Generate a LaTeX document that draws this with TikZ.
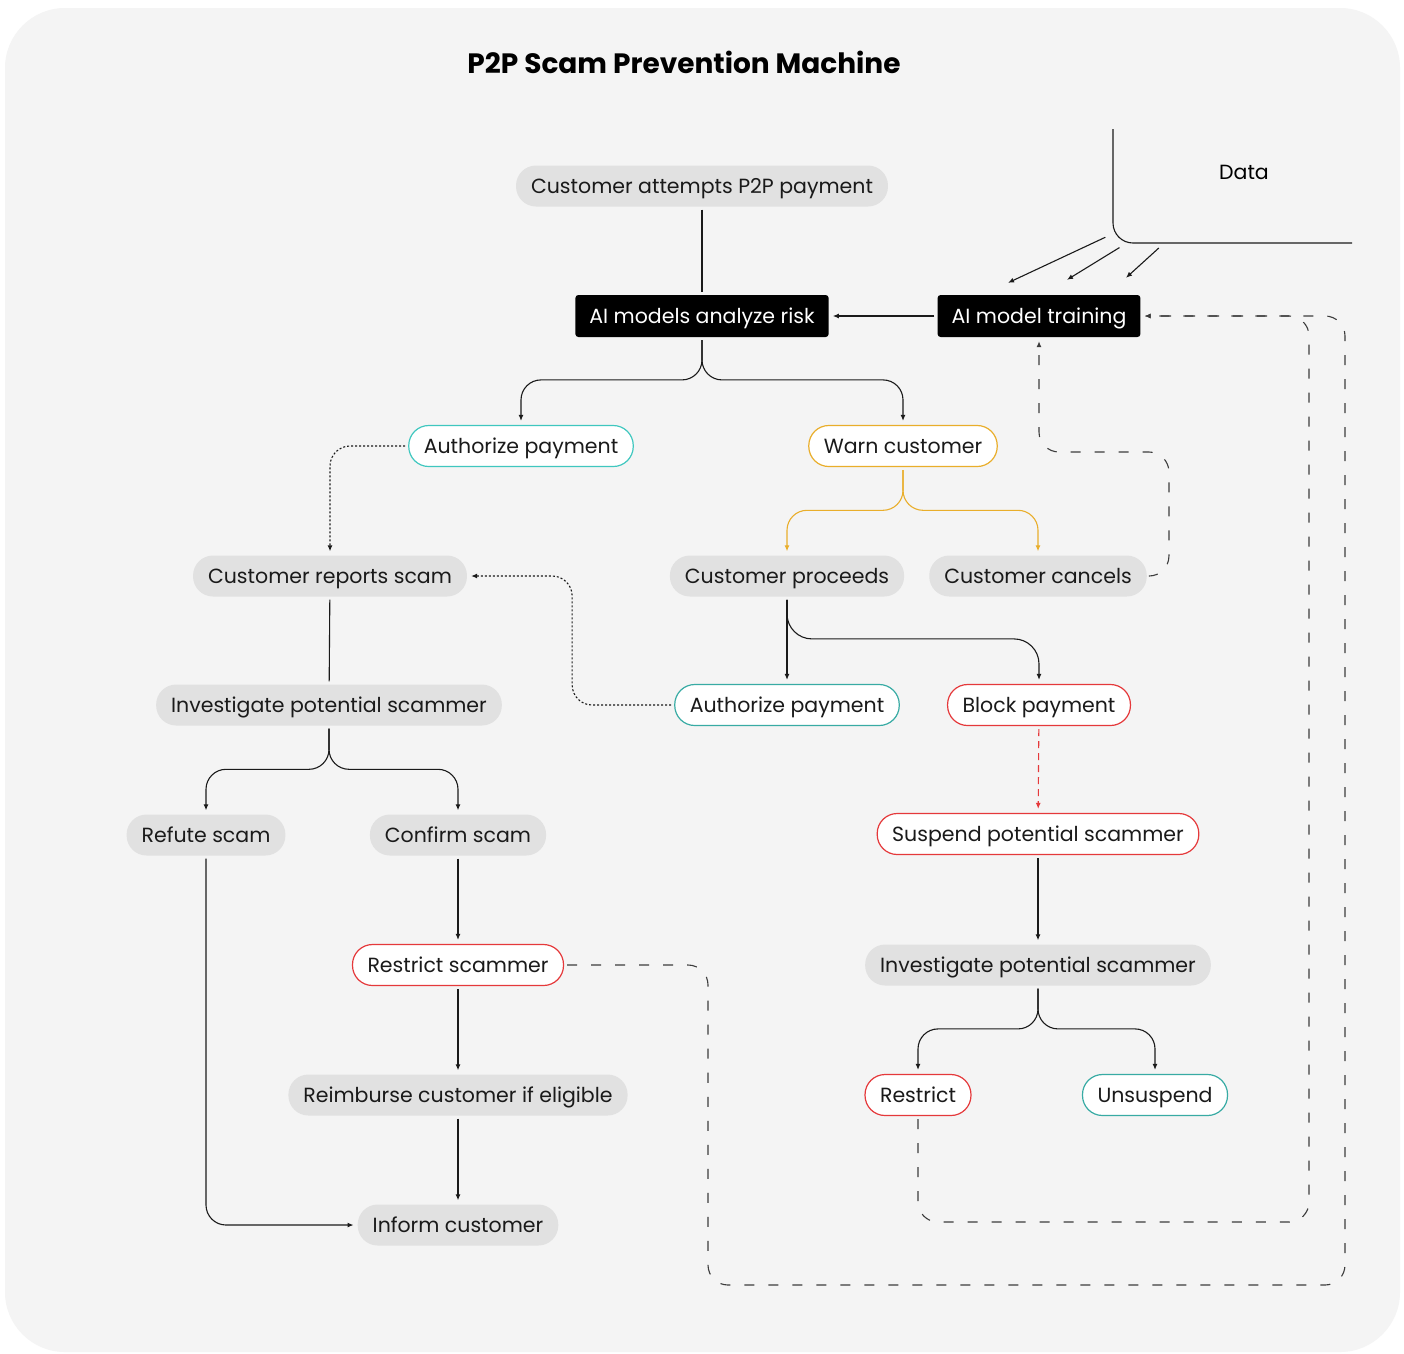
\documentclass[tikz,border=0pt]{standalone}
\usepackage{fontspec}
\setmainfont{Poppins}
\usetikzlibrary{arrows.meta, positioning}

\definecolor{canvas}{HTML}{F4F4F4}
\definecolor{pillgrey}{HTML}{E1E1E1}
\definecolor{tealA}{HTML}{3FC7BF}
\definecolor{tealB}{HTML}{38ABA4}
\definecolor{amber}{HTML}{E9AE2B}
\definecolor{alert}{HTML}{E5393B}
\definecolor{ink}{HTML}{1A1A1A}

\begin{document}
\begin{tikzpicture}[
    x=1pt, y=-1pt,
    pill/.style={
        rounded corners=20pt,
        fill=pillgrey,
        minimum height=41pt,
        inner xsep=15pt,
        text=ink,
        text height=14.5pt,
        text depth=0pt,
        font=\fontsize{20.5}{24}\selectfont,
    },
    outcome/.style={
        pill,
        fill=white,
        draw=#1,
        line width=1.2pt,
    },
    engine/.style={
        rounded corners=3pt,
        fill=black,
        text=white,
        minimum height=42pt,
        inner xsep=14pt,
        text height=14.5pt,
        text depth=0pt,
        font=\fontsize{20.5}{24}\selectfont,
    },
    link/.style={
        line width=1.1pt,
        draw=ink,
        shorten >=3pt,
        shorten <=3pt,
    },
    flow/.style={
        link,
        -{Latex[length=6pt,width=5pt]},
        shorten >=4pt,
    },
    hint/.style={
        flow,
        dash pattern=on 2pt off 2pt,
        rounded corners=20pt,
    },
    feedback/.style={
        flow,
        draw=ink!85,
        dash pattern=on 10pt off 14pt,
        rounded corners=20pt,
    },
]
    % Canvas
    \useasboundingbox (0,0) rectangle (1404,1353);
    \fill[white] (0,0) rectangle (1404,1353);
    \fill[canvas, rounded corners=60pt] (5,8) rectangle (1400,1352);

    % Title
    \node[font=\fontsize{28}{32}\selectfont\bfseries] (title) at (684,62) {P2P Scam Prevention Machine};

    % Engine
    \node[pill] (attempt) at (702,186) {Customer attempts P2P payment};
    \node[engine] (analyze) at (702,316) {AI models analyze risk};
    \node[engine] (training) at (1039,316) {AI model training};
    \node[font=\fontsize{20.5}{24}\selectfont] (data) at (1244,172) {Data};

    % First decision
    \node[outcome=tealA] (authorize1) at (521,446) {Authorize payment};
    \node[outcome=amber] (warn) at (903,446) {Warn customer};
    \node[pill] (reports) at (330,576) {Customer reports scam};
    \node[pill] (proceeds) at (787,576) {Customer proceeds};
    \node[pill] (cancels) at (1038,576) {Customer cancels};
    \node[outcome=tealB] (authorize2) at (787,705) {Authorize payment};
    \node[outcome=alert] (block) at (1039,705) {Block payment};

    % Scam report
    \node[pill] (investigate1) at (329,705) {Investigate potential scammer};
    \node[pill] (refute) at (206,835) {Refute scam};
    \node[pill] (confirm) at (458,835) {Confirm scam};
    \node[outcome=alert] (restrictscammer) at (458,965) {Restrict scammer};
    \node[pill] (reimburse) at (458,1095) {Reimburse customer if eligible};
    \node[pill] (inform) at (458,1225) {Inform customer};

    % Blocked payment
    \node[outcome=alert] (suspend) at (1038,834) {Suspend potential scammer};
    \node[pill] (investigate2) at (1038,965) {Investigate potential scammer};
    \node[outcome=alert] (restrict) at (918,1095) {Restrict};
    \node[outcome=tealB] (unsuspend) at (1155,1095) {Unsuspend};

    % Data feed
    \coordinate (datacorner) at (1113,243);
    \draw[link, rounded corners=20pt] (1113,126) -- (datacorner) -- (1355,243);
    \draw[flow, shorten >=0pt] (1108,236) -- ([xshift=-31pt,yshift=12pt]training.north);
    \draw[flow, shorten >=0pt] (1122,246) -- ([xshift=28pt,yshift=15pt]training.north);
    \draw[flow, shorten >=0pt] (1161,246) -- ([xshift=87pt,yshift=17pt]training.north);

    % Main flow
    \draw[link] (attempt) -- (analyze);
    \draw[flow] (training) -- (analyze);
    \draw[flow, rounded corners=20pt] (analyze.south) |- ([yshift=45pt]authorize1.north) -- (authorize1.north);
    \draw[flow, rounded corners=20pt] (analyze.south) |- ([yshift=45pt]warn.north) -- (warn.north);
    \draw[flow, amber, rounded corners=20pt] (warn.south) |- ([yshift=45pt]proceeds.north) -- (proceeds.north);
    \draw[flow, amber, rounded corners=20pt] (warn.south) |- ([yshift=45pt]cancels.north) -- (cancels.north);
    \draw[flow] (proceeds) -- (authorize2);
    \draw[flow, rounded corners=25pt] (proceeds.south) |- ([yshift=45pt]block.north) -- (block.north);

    % Reports
    \draw[hint] (authorize1.west) -| (reports.north);
    \draw[hint] (authorize2.west) -| ([xshift=105pt]reports.east) -- (reports.east);
    \draw[link] (reports) -- (investigate1);
    \draw[flow, rounded corners=20pt] (investigate1.south) |- ([yshift=45pt]refute.north) -- (refute.north);
    \draw[flow, rounded corners=20pt] (investigate1.south) |- ([yshift=45pt]confirm.north) -- (confirm.north);
    \draw[flow] (confirm) -- (restrictscammer);
    \draw[flow] (restrictscammer) -- (reimburse);
    \draw[flow] (reimburse) -- (inform);
    \draw[flow, rounded corners=20pt] (refute.south) |- (inform.west);

    % Suspension
    \draw[flow, alert, dash pattern=on 7pt off 5pt] (block) -- (suspend);
    \draw[flow] (suspend) -- (investigate2);
    \draw[flow, rounded corners=20pt] (investigate2.south) |- ([yshift=45pt]restrict.north) -- (restrict.north);
    \draw[flow, rounded corners=20pt] (investigate2.south) |- ([yshift=45pt]unsuspend.north) -- (unsuspend.north);

    % Feedback to training
    \draw[feedback] (cancels.east) -| ++(22,-124) -| (training.south);
    \draw[feedback] (restrict.south) |- (1309,1222) |- (training.east);
    \draw[feedback] (restrictscammer.east) -| (708,1285) -| (1345,316) -- (training.east);
\end{tikzpicture}
\end{document}
